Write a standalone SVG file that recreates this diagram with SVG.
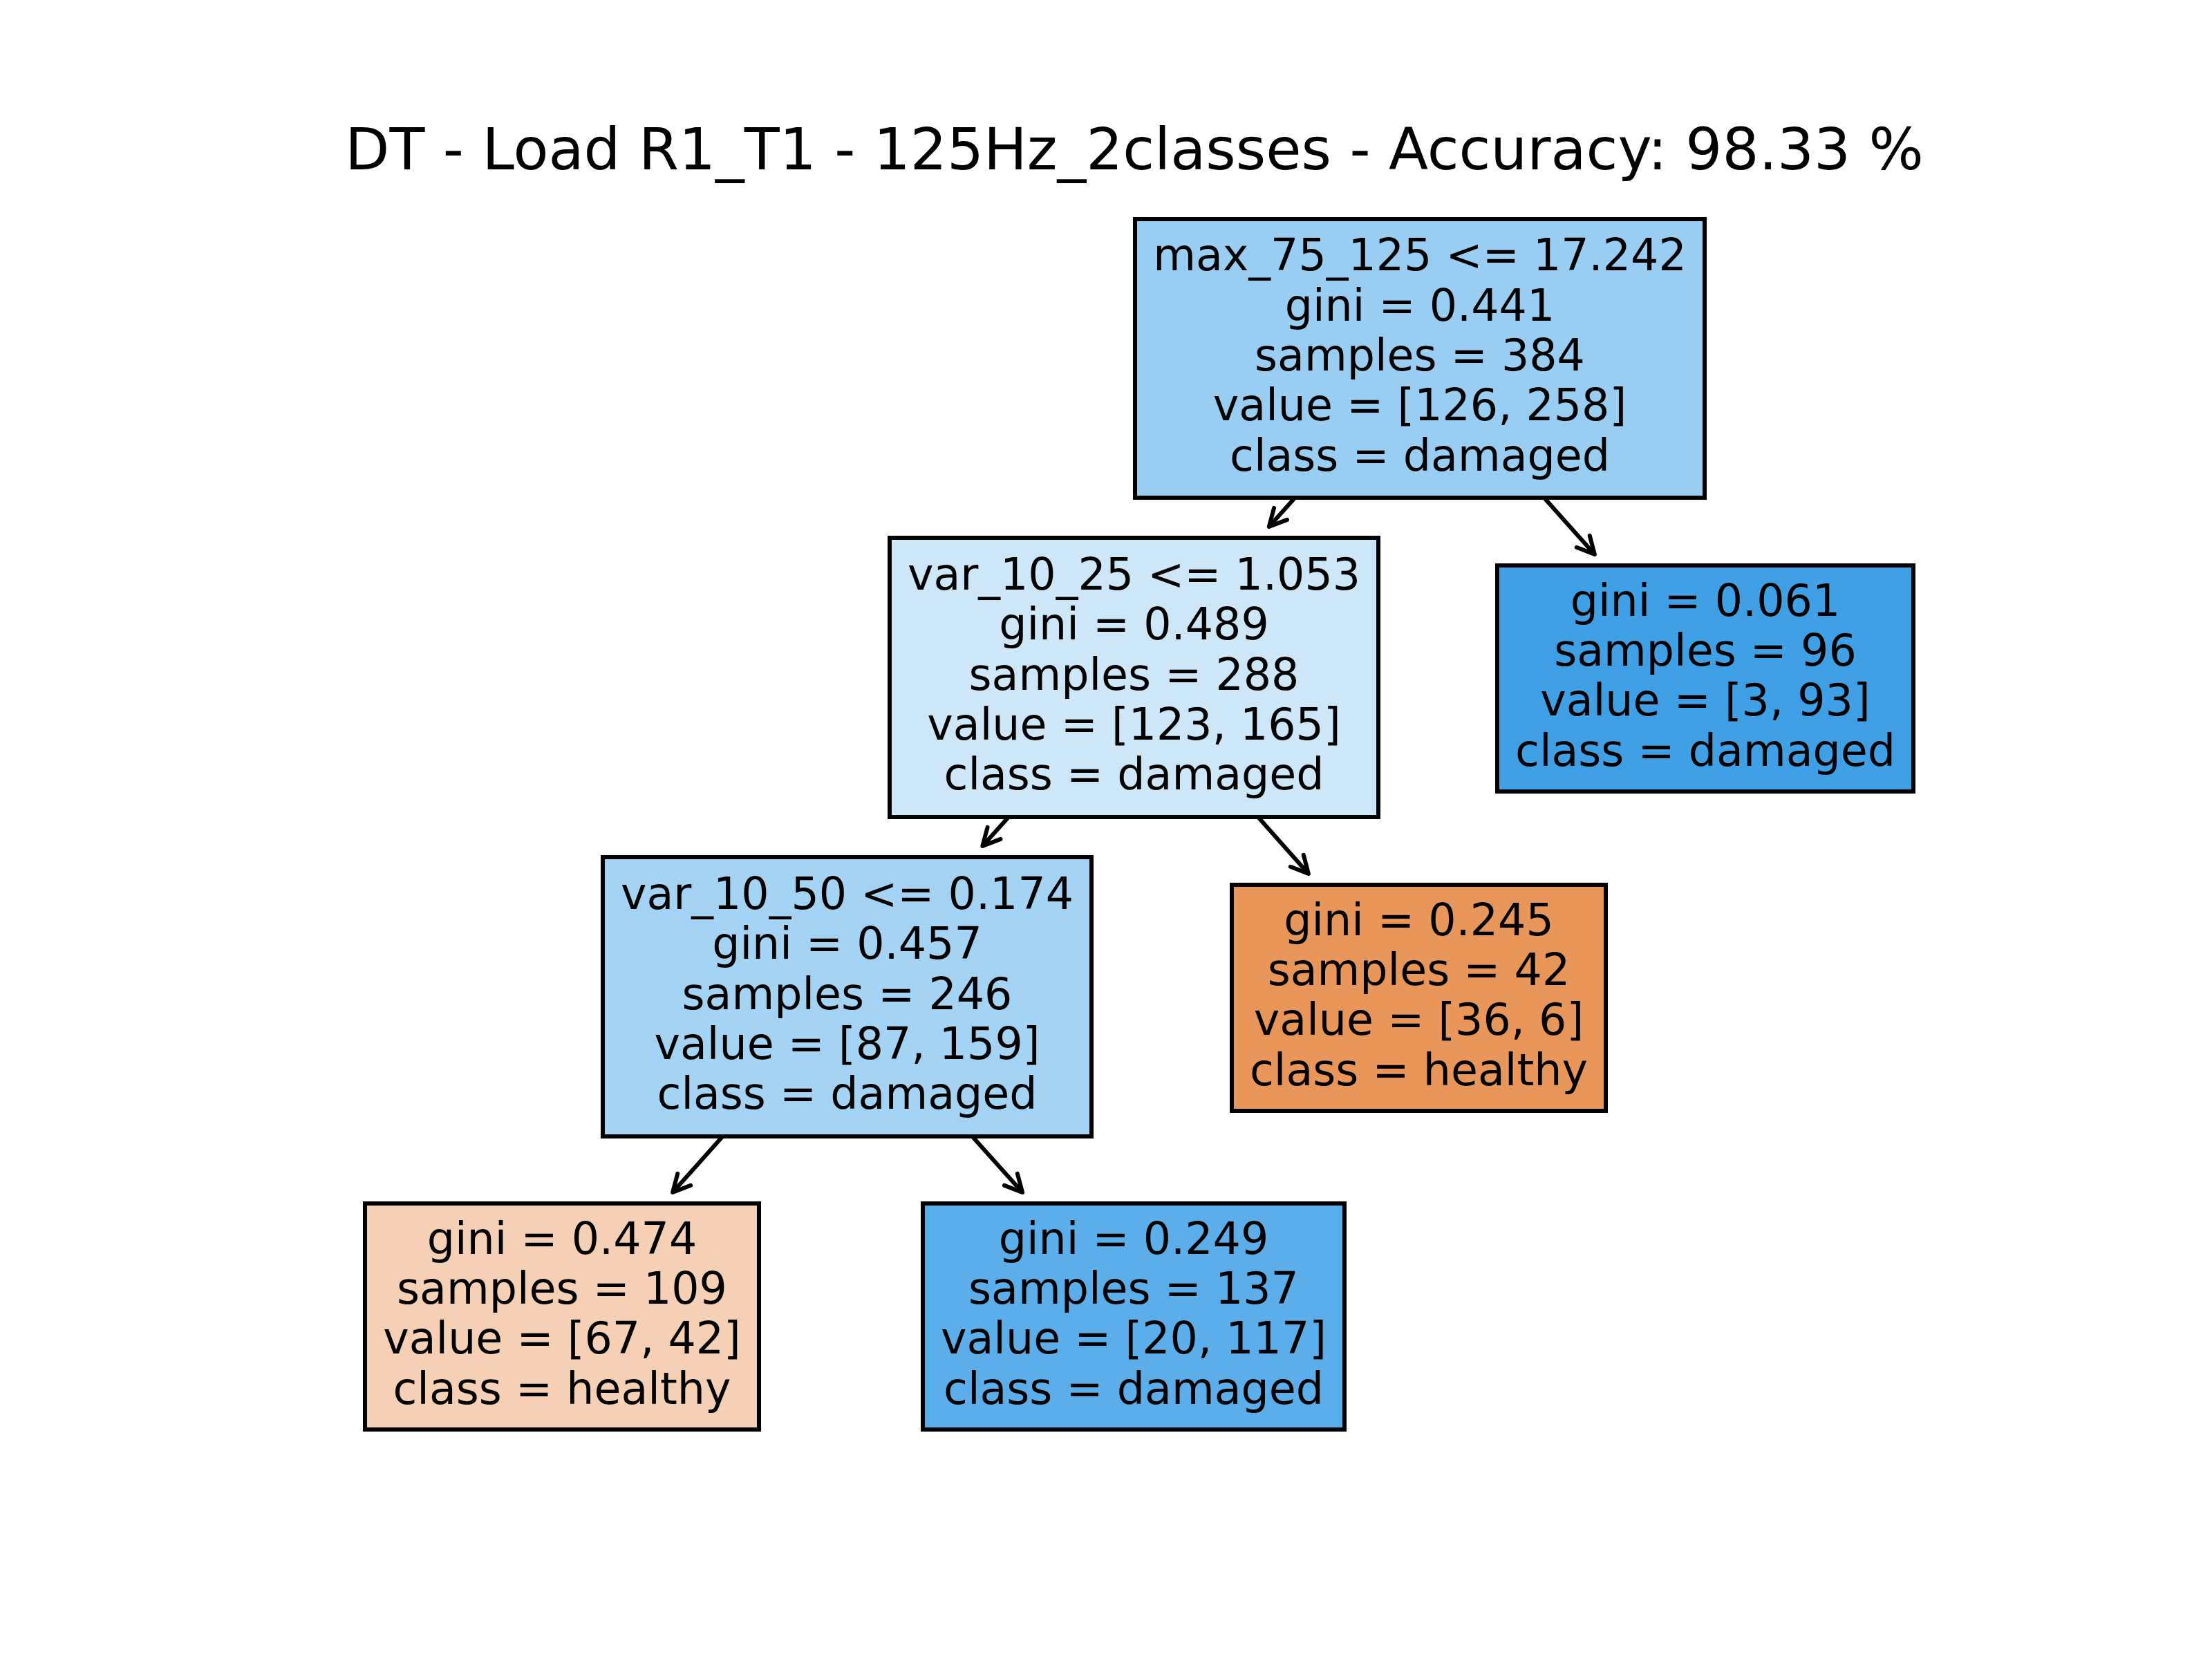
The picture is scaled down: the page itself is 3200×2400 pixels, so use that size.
<svg xmlns="http://www.w3.org/2000/svg" width="3200" height="2400" viewBox="0 0 3200 2400">
<style>
  .title { font-family: "DejaVu Sans", "Liberation Sans", sans-serif; font-size: 83.4px; fill: #000; text-anchor: middle; }
  .box { stroke: #000; stroke-width: 6; }
  .lbl { font-family: "DejaVu Sans", "Liberation Sans", sans-serif; font-size: 63.4px; fill: #000; text-anchor: middle; }
  .edge { stroke: #000; stroke-width: 6; fill: none; marker-end: url(#arr); }
</style>
<defs>
  <marker id="arr" markerUnits="userSpaceOnUse" viewBox="-32 -18 38 36" refX="0" refY="0" markerWidth="38" markerHeight="36" orient="auto">
    <path d="M-25,-12.7 L0,0 L-25,12.7" fill="none" stroke="#000" stroke-width="6" stroke-linejoin="round" stroke-linecap="round"/>
  </marker>
</defs>
<rect width="3200" height="2400" fill="#fff"/>
<text class="title" x="1641" y="245">DT - Load R1_T1 - 125Hz_2classes - Accuracy: 98.33 %</text>
<g id="connectors">
  <line class="edge" x1="2054" y1="518.5" x2="1835.8" y2="762"/>
  <line class="edge" x1="2054" y1="518.5" x2="2306.9" y2="802"/>
  <line class="edge" x1="1640.5" y1="980" x2="1421.3" y2="1224"/>
  <line class="edge" x1="1640.5" y1="980" x2="1892.9" y2="1264"/>
  <line class="edge" x1="1225.5" y1="1442" x2="973.1" y2="1725"/>
  <line class="edge" x1="1225.5" y1="1442" x2="1479.1" y2="1725"/>
</g>
<g id="node0">
  <rect class="box" x="1642" y="317" width="824" height="403" fill="#9acdf2"/>
  <text class="lbl" x="2054" y="391.4">max_75_125 &lt;= 17.242</text>
  <text class="lbl" x="2054" y="463.7">gini = 0.441</text>
  <text class="lbl" x="2054" y="536">samples = 384</text>
  <text class="lbl" x="2054" y="608.3">value = [126, 258]</text>
  <text class="lbl" x="2054" y="680.6">class = damaged</text>
</g>
<g id="node1">
  <rect class="box" x="1287" y="778" width="707" height="404" fill="#cde6f8"/>
  <text class="lbl" x="1640.5" y="852.9">var_10_25 &lt;= 1.053</text>
  <text class="lbl" x="1640.5" y="925.2">gini = 0.489</text>
  <text class="lbl" x="1640.5" y="997.5">samples = 288</text>
  <text class="lbl" x="1640.5" y="1069.8">value = [123, 165]</text>
  <text class="lbl" x="1640.5" y="1142.1">class = damaged</text>
</g>
<g id="node2">
  <rect class="box" x="872" y="1240" width="707" height="404" fill="#a5d3f3"/>
  <text class="lbl" x="1225.5" y="1314.9">var_10_50 &lt;= 0.174</text>
  <text class="lbl" x="1225.5" y="1387.2">gini = 0.457</text>
  <text class="lbl" x="1225.5" y="1459.5">samples = 246</text>
  <text class="lbl" x="1225.5" y="1531.8">value = [87, 159]</text>
  <text class="lbl" x="1225.5" y="1604.1">class = damaged</text>
</g>
<g id="node3">
  <rect class="box" x="528" y="1741" width="570" height="327" fill="#f5d0b5"/>
  <text class="lbl" x="813" y="1813.6">gini = 0.474</text>
  <text class="lbl" x="813" y="1885.9">samples = 109</text>
  <text class="lbl" x="813" y="1958.2">value = [67, 42]</text>
  <text class="lbl" x="813" y="2030.5">class = healthy</text>
</g>
<g id="node4">
  <rect class="box" x="1335" y="1741" width="610" height="327" fill="#5baee9"/>
  <text class="lbl" x="1640" y="1813.6">gini = 0.249</text>
  <text class="lbl" x="1640" y="1885.9">samples = 137</text>
  <text class="lbl" x="1640" y="1958.2">value = [20, 117]</text>
  <text class="lbl" x="1640" y="2030.5">class = damaged</text>
</g>
<g id="node5">
  <rect class="box" x="1782" y="1280" width="541" height="327" fill="#e9965a"/>
  <text class="lbl" x="2052.5" y="1352.6">gini = 0.245</text>
  <text class="lbl" x="2052.5" y="1424.9">samples = 42</text>
  <text class="lbl" x="2052.5" y="1497.2">value = [36, 6]</text>
  <text class="lbl" x="2052.5" y="1569.5">class = healthy</text>
</g>
<g id="node6">
  <rect class="box" x="2166" y="818" width="602" height="327" fill="#3fa0e6"/>
  <text class="lbl" x="2467" y="890.6">gini = 0.061</text>
  <text class="lbl" x="2467" y="962.9">samples = 96</text>
  <text class="lbl" x="2467" y="1035.2">value = [3, 93]</text>
  <text class="lbl" x="2467" y="1107.5">class = damaged</text>
</g>
</svg>
